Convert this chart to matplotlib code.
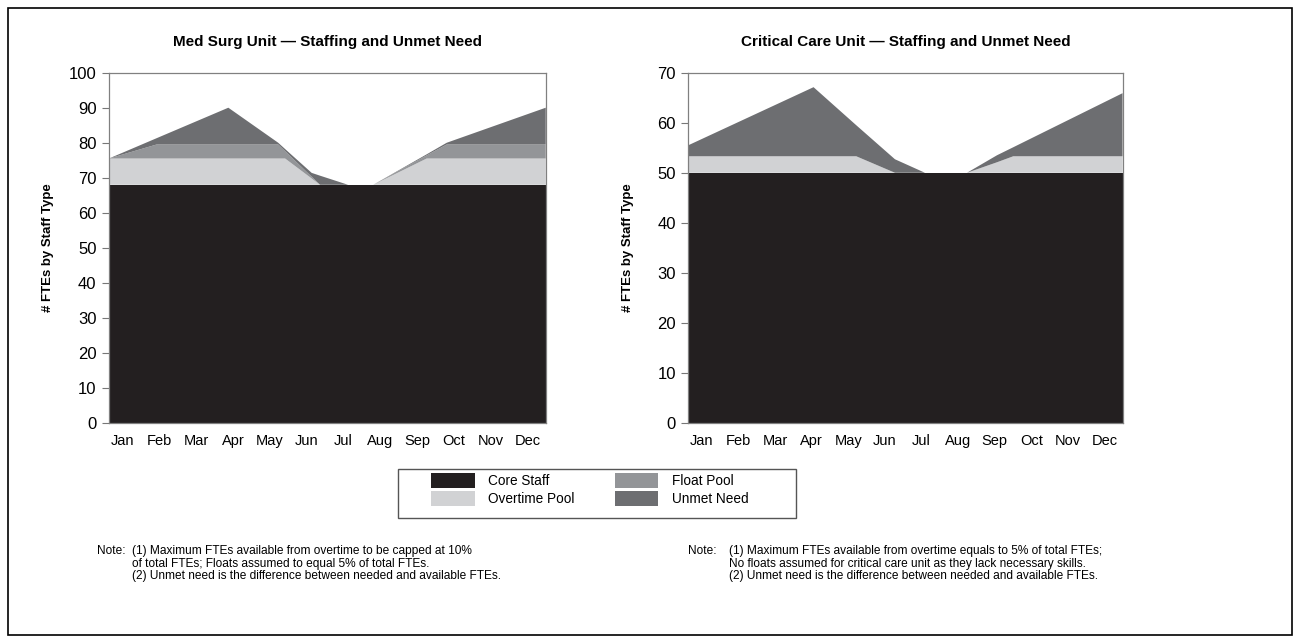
import numpy as np
import matplotlib
matplotlib.use("Agg")
import matplotlib.pyplot as plt
from matplotlib.patches import Patch, Rectangle

plt.rcParams['font.family'] = ['Liberation Sans', 'DejaVu Sans']

months = ['Jan', 'Feb', 'Mar', 'Apr', 'May', 'Jun',
          'Jul', 'Aug', 'Sep', 'Oct', 'Nov', 'Dec']
series_names = ['Core Staff', 'Overtime Pool', 'Float Pool', 'Unmet Need']
colors = ['#231f20', '#d1d2d4', '#939598', '#6d6e71']

# Med Surg unit: positions along the year (0 = start of Jan, 12 = end of Dec)
ms_x = [0, 1.31, 3.28, 4.65, 4.84, 5.57, 5.80, 6.57, 7.26, 8.73, 9.28, 12]
ms_core = [68, 68, 68, 68, 68, 68, 68, 68, 68, 68, 68, 68]
ms_overtime = [7.5, 7.5, 7.5, 7.5, 7.5, 1.8, 0, 0, 0, 7.5, 7.5, 7.5]
ms_float = [0, 4, 4, 4, 2.1, 0.5, 0, 0, 0, 0.9, 4, 4]
ms_unmet = [0, 1.8, 10.5, 0.5, 0.6, 1.1, 2.6, 0, 0, 0.3, 0.5, 10.5]

# Critical care unit (no float pool)
cc_x = [0, 3.46, 4.64, 5.71, 6.54, 7.70, 8.53, 8.98, 12]
cc_core = [50, 50, 50, 50, 50, 50, 50, 50, 50]
cc_overtime = [3.3, 3.3, 3.3, 0, 0, 0, 2.1, 3.3, 3.3]
cc_float = [0, 0, 0, 0, 0, 0, 0, 0, 0]
cc_unmet = [2.2, 13.8, 6.2, 2.7, 0, 0, 1.4, 1.8, 12.6]

month_pos = np.linspace(0.37, 11.5, 12)

notes_left = ("(1) Maximum FTEs available from overtime to be capped at 10%\n"
              "of total FTEs; Floats assumed to equal 5% of total FTEs.\n"
              "(2) Unmet need is the difference between needed and available FTEs.")
notes_right = ("(1) Maximum FTEs available from overtime equals to 5% of total FTEs;\n"
               "No floats assumed for critical care unit as they lack necessary skills.\n"
               "(2) Unmet need is the difference between needed and available FTEs.")


def draw_unit(ax, x, layers, ymax, title):
    ax.stackplot(x, *layers, colors=colors, linewidth=0)
    ax.set_xlim(0, 12)
    ax.set_ylim(0, ymax)
    ax.set_yticks(np.arange(0, ymax + 1, 10))
    ax.set_xticks(month_pos)
    ax.set_xticklabels(months)
    ax.tick_params(axis='x', length=0, pad=8, labelsize=10.5)
    ax.tick_params(axis='y', length=5, width=0.8, color='#777777', pad=4, labelsize=12)
    for s in ax.spines.values():
        s.set_color('#808080')
        s.set_linewidth(0.9)
    ax.set_ylabel('# FTEs by Staff Type', fontsize=9.5, fontweight='bold')
    ax.yaxis.set_label_coords(-0.125, 0.5)
    ax.set_title(title, fontsize=11, fontweight='bold', pad=19)


fig = plt.figure(figsize=(13, 6.43), dpi=100)

ax1 = fig.add_axes([0.0838, 0.342, 0.336, 0.545])
draw_unit(ax1, ms_x, [ms_core, ms_overtime, ms_float, ms_unmet], 100,
          'Med Surg Unit \u2014 Staffing and Unmet Need')

ax2 = fig.add_axes([0.5295, 0.342, 0.334, 0.545])
draw_unit(ax2, cc_x, [cc_core, cc_overtime, cc_float, cc_unmet], 70,
          'Critical Care Unit \u2014 Staffing and Unmet Need')

# legend: entries without frame, box drawn separately
handles = [Patch(facecolor=c, edgecolor='none') for c in colors]
leg = fig.legend(handles, series_names, ncol=2, loc='upper left',
                 bbox_to_anchor=(0.3315, 0.264), fontsize=9.8,
                 handlelength=3.2, handleheight=1.3, handletextpad=1.0,
                 columnspacing=2.95, labelspacing=0.22,
                 frameon=False, borderpad=0, borderaxespad=0)
fig.patches.append(Rectangle((0.306, 0.194), 0.306, 0.077, transform=fig.transFigure,
                             fill=False, edgecolor='#555555', linewidth=1.0))

# notes under each chart
fig.text(0.0745, 0.153, 'Note:', fontsize=8.6, va='top')
fig.text(0.1015, 0.153, notes_left, fontsize=8.6, va='top', linespacing=1.1)
fig.text(0.529, 0.153, 'Note:', fontsize=8.6, va='top')
fig.text(0.5605, 0.153, notes_right, fontsize=8.6, va='top', linespacing=1.1)

# outer frame
fig.patches.append(Rectangle((0.006, 0.012), 0.988, 0.976, transform=fig.transFigure,
                             fill=False, edgecolor='black', linewidth=1.2))

fig.savefig('out.png', dpi=100)
